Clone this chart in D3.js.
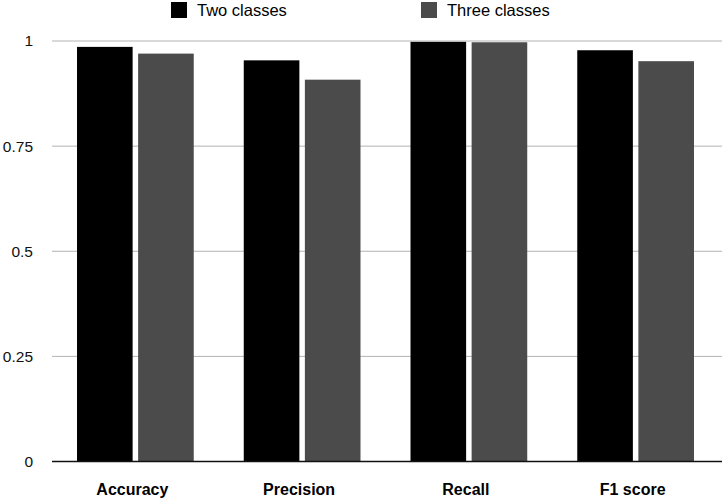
<!DOCTYPE html>
<html>
<head>
<meta charset="utf-8">
<script src="https://cdn.jsdelivr.net/npm/d3@7"></script>
<style>
  body { margin: 0; background: #fff; }
  svg { display: block; font-family: "Liberation Sans", Arial, Helvetica, sans-serif; }
</style>
</head>
<body>
<div class="graph"></div>
<script>
// chart values
const categories = ["Accuracy", "Precision", "Recall", "F1 score"];
const seriesNames = ["Two classes", "Three classes"];
const twoClasses = [0.986, 0.954, 0.998, 0.978];
const threeClasses = [0.970, 0.908, 0.997, 0.952];
const yTicks = [0, 0.25, 0.5, 0.75, 1];
const yTickLabels = ["0", "0.25", "0.5", "0.75", "1"];

const colors = ["#000000", "#4b4b4b"];

const plotVars = ({
    width: 722,
    height: 498,
    left: 52,
    right: 722,
    top: 41,
    bottom: 461.5
});

const svg = d3.select(".graph").append("svg")
    .attr("width", plotVars.width)
    .attr("height", plotVars.height);

const rows = categories.map((c, i) => ({ cat: c, values: [twoClasses[i], threeClasses[i]] }));

const x0 = d3.scaleBand().domain(categories)
    .range([plotVars.left, 719]).paddingInner(0.3).paddingOuter(0.15);
const x1 = d3.scaleBand().domain([0, 1])
    .range([0, x0.bandwidth()]).paddingInner(0.09);
const y = d3.scaleLinear().domain([0, 1]).range([plotVars.bottom, plotVars.top]);

// gridlines
svg.append("g").selectAll("line")
    .data(yTicks.filter(t => t > 0))
    .join("line")
    .attr("x1", plotVars.left).attr("x2", plotVars.right)
    .attr("y1", d => y(d)).attr("y2", d => y(d))
    .attr("stroke", "#b3b3b3").attr("stroke-width", 1);

// y labels
svg.append("g").selectAll("text")
    .data(yTicks)
    .join("text")
    .attr("x", 33)
    .attr("y", d => y(d))
    .attr("dy", "0.35em")
    .attr("text-anchor", "end")
    .attr("font-size", 15.5)
    .attr("fill", "#111")
    .text((d, i) => yTickLabels[i]);

// bars
const groups = svg.append("g").selectAll("g")
    .data(rows)
    .join("g")
    .attr("transform", d => `translate(${x0(d.cat)},0)`);

groups.selectAll("rect")
    .data(d => d.values.map((v, i) => ({ v, i })))
    .join("rect")
    .attr("x", d => x1(d.i))
    .attr("width", x1.bandwidth())
    .attr("y", d => y(d.v))
    .attr("height", d => y(0) - y(d.v))
    .attr("fill", d => colors[d.i]);

// baseline
svg.append("line")
    .attr("x1", plotVars.left).attr("x2", plotVars.right)
    .attr("y1", y(0)).attr("y2", y(0))
    .attr("stroke", "#111").attr("stroke-width", 1.5);

// category labels
svg.append("g").selectAll("text")
    .data(categories)
    .join("text")
    .attr("x", d => x0(d) + x0.bandwidth() / 2 - 3)
    .attr("y", 495)
    .attr("text-anchor", "middle")
    .attr("font-size", 16)
    .attr("font-weight", "bold")
    .attr("fill", "#000")
    .text(d => d);

// legend
const legendX = [171, 421];
const legend = svg.append("g").selectAll("g")
    .data(seriesNames)
    .join("g")
    .attr("transform", (d, i) => `translate(${legendX[i]},2)`);
legend.append("rect")
    .attr("width", 16).attr("height", 16)
    .attr("fill", (d, i) => colors[i]);
legend.append("text")
    .attr("x", 26).attr("y", 8)
    .attr("dy", "0.35em")
    .attr("font-size", 16.5)
    .attr("fill", "#000")
    .text(d => d);
</script>
</body>
</html>
